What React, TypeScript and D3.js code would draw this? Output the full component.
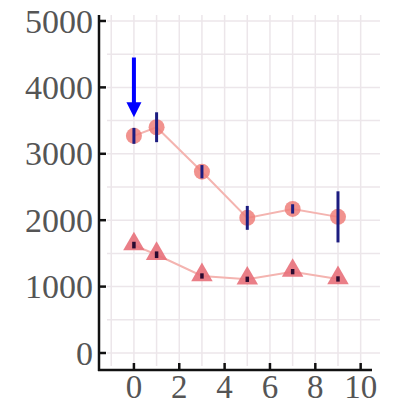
import React from "react";
import * as d3 from "d3";

const xs = [0, 1, 3, 5, 7, 9];
const circleMeans = [3270, 3400, 2730, 2035, 2170, 2050];
const circleErr = [120, 225, 100, 180, 70, 385];
const triMeans = [1625, 1480, 1160, 1110, 1225, 1115];
const triErr = [50, 50, 40, 40, 40, 40];
const xTicks = [0, 2, 4, 6, 8, 10];
const yTicks = [0, 1000, 2000, 3000, 4000, 5000];
const arrowX = 0;
const arrowFrom = 4450;
const arrowTo = 3550;

export default function App() {
  const W = 394, H = 406;
  const x = d3.scaleLinear().domain([-1.54, 10.5]).range([99, 372]);
  const y = d3.scaleLinear().domain([-256, 5090]).range([370, 15]);
  const gridX = d3.range(-1, 11, 1);
  const gridY = d3.range(0, 5001, 500);
  const line = d3.line<number>().x((_, i) => x(xs[i])).y((d) => y(d));
  const tri = d3.symbol().type(d3.symbolTriangle).size(200)();
  const font = "'Liberation Serif', 'Times New Roman', serif";
  return (
    <svg width={W} height={H} style={{ position: "absolute", left: 0, top: 0, background: "#fff" }}>
      <g>
        {gridX.map((g) => (
          <line key={"gx" + g} x1={x(g)} x2={x(g)} y1={15} y2={366} stroke="#ece6ea" strokeWidth={1.5} />
        ))}
        {gridY.map((g) => (
          <line key={"gy" + g} x1={107} x2={380} y1={y(g)} y2={y(g)} stroke="#ece6ea" strokeWidth={1.5} />
        ))}
      </g>
      <path d={line(circleMeans) || ""} fill="none" stroke="#f4b4b0" strokeWidth={2} />
      <path d={line(triMeans) || ""} fill="none" stroke="#f4b4b0" strokeWidth={2} />
      {circleMeans.map((v, i) => (
        <circle key={"c" + i} cx={x(xs[i])} cy={y(v)} r={8} fill="#ef7f7a" fillOpacity={0.85} />
      ))}
      {triMeans.map((v, i) => (
        <path key={"t" + i} d={tri} transform={`translate(${x(xs[i])},${y(v) - 1})`} fill="#e8707a" fillOpacity={0.9} />
      ))}
      {circleMeans.map((v, i) => (
        <line key={"ce" + i} x1={x(xs[i])} x2={x(xs[i])} y1={y(v - circleErr[i])} y2={y(v + circleErr[i])} stroke="#1c1c80" strokeWidth={3} />
      ))}
      {triMeans.map((v, i) => (
        <line key={"te" + i} x1={x(xs[i])} x2={x(xs[i])} y1={y(v - triErr[i])} y2={y(v + triErr[i])} stroke="#2a0a30" strokeWidth={3.5} />
      ))}
      <line x1={x(arrowX)} x2={x(arrowX)} y1={y(arrowFrom)} y2={y(arrowTo) - 12} stroke="#0000ff" strokeWidth={4} />
      <path
        d={`M${x(arrowX) - 7.5},${y(arrowTo) - 15} L${x(arrowX) + 7.5},${y(arrowTo) - 15} L${x(arrowX)},${y(arrowTo)} Z`}
        fill="#0000ff"
      />
      <line x1={99} x2={99} y1={15} y2={371} stroke="#111" strokeWidth={2.5} />
      <line x1={98} x2={372} y1={370} y2={370} stroke="#111" strokeWidth={2.5} />
      {yTicks.map((t) => (
        <g key={"yt" + t}>
          <line x1={99} x2={106} y1={y(t)} y2={y(t)} stroke="#111" strokeWidth={2.5} />
          <text x={93} y={y(t)} dy="0.34em" textAnchor="end" fontFamily={font} fontSize={34} fill="#555">
            {t}
          </text>
        </g>
      ))}
      {xTicks.map((t) => (
        <g key={"xt" + t}>
          <line x1={x(t)} x2={x(t)} y1={370} y2={363} stroke="#111" strokeWidth={2.5} />
          <text x={x(t)} y={398} textAnchor="middle" fontFamily={font} fontSize={33} fill="#555">
            {t}
          </text>
        </g>
      ))}
    </svg>
  );
}
